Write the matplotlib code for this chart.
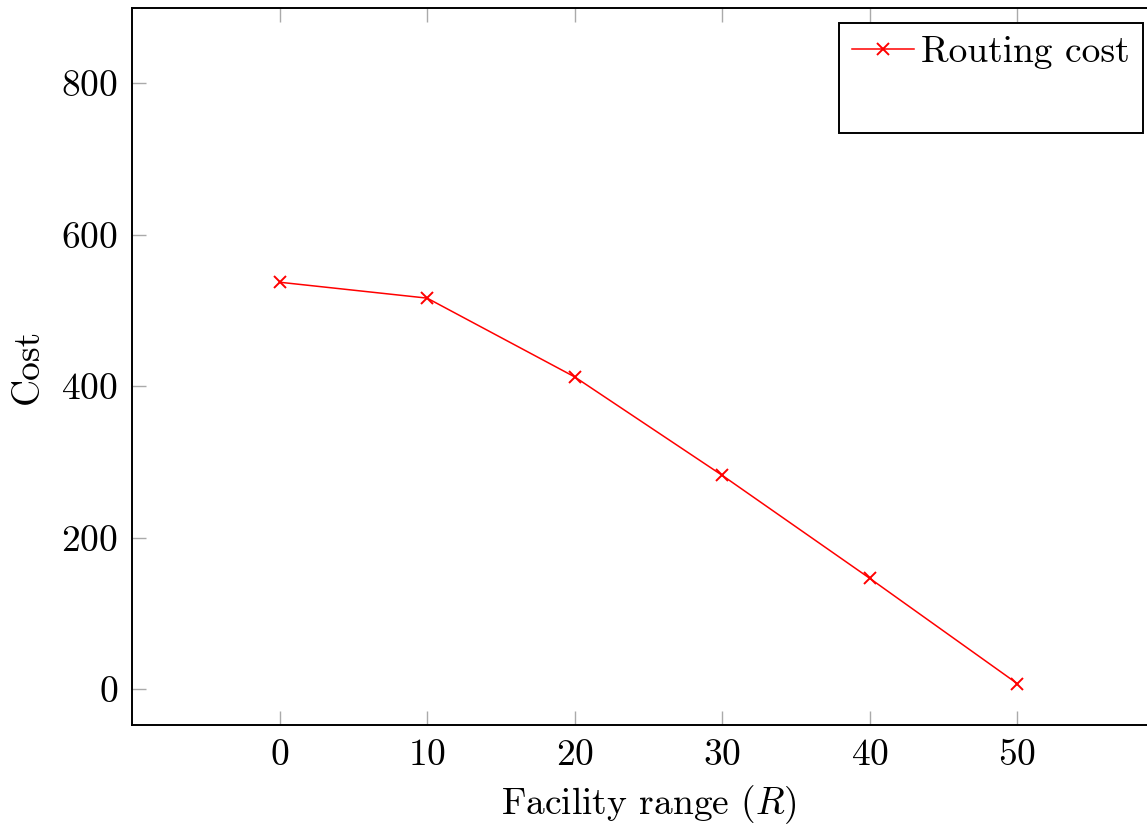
import matplotlib
matplotlib.use("Agg")
import matplotlib.pyplot as plt
from matplotlib.lines import Line2D

plt.rcParams["font.family"] = ["cmr10", "DejaVu Serif"]
plt.rcParams["mathtext.fontset"] = "cm"
plt.rcParams["axes.formatter.use_mathtext"] = True

facility_range = [0, 10, 20, 30, 40, 50]
routing_cost = [537, 516, 412, 282, 146, 7]
x_ticks = [0, 10, 20, 30, 40, 50]
y_ticks = [0, 200, 400, 600, 800]

fig = plt.figure(figsize=(11.47, 8.25), dpi=100)
# axes runs past the right edge of the picture, as in the reference crop
ax = fig.add_axes([132 / 1147, 1 - 725 / 825, (1165 - 132) / 1147, (725 - 8) / 825])

ax.plot(facility_range, routing_cost, color="red", lw=1.1, marker="x",
        markersize=9, markeredgewidth=1.4, label="Routing cost")

ax.set_xlim(-10, 60)
ax.set_ylim(-47.5, 899)
ax.set_xticks(x_ticks)
ax.set_yticks(y_ticks)
ax.tick_params(direction="in", length=10, width=1.0, color="#aaaaaa",
               top=True, right=True, labelsize=27, pad=10)
for sp in ax.spines.values():
    sp.set_linewidth(1.4)

ax.set_xlabel("Facility range ($R$)", fontsize=27, labelpad=8)
ax.set_ylabel("Cost", fontsize=27, labelpad=12)

# second, empty entry leaves the blank space under the label
blank = Line2D([], [], color="none")
leg = ax.legend(handles=[ax.lines[0], blank], labels=["Routing cost", " "],
                loc="upper right", bbox_to_anchor=(1143 / 1147, 1 - 23 / 825),
                bbox_transform=fig.transFigure,
                fontsize=27, frameon=True, fancybox=False, edgecolor="black",
                framealpha=1, handlelength=1.65, handletextpad=0.2,
                borderpad=0.35, borderaxespad=0, labelspacing=0.45)
leg.get_frame().set_linewidth(1.4)

fig.savefig("out.png", dpi=100)
